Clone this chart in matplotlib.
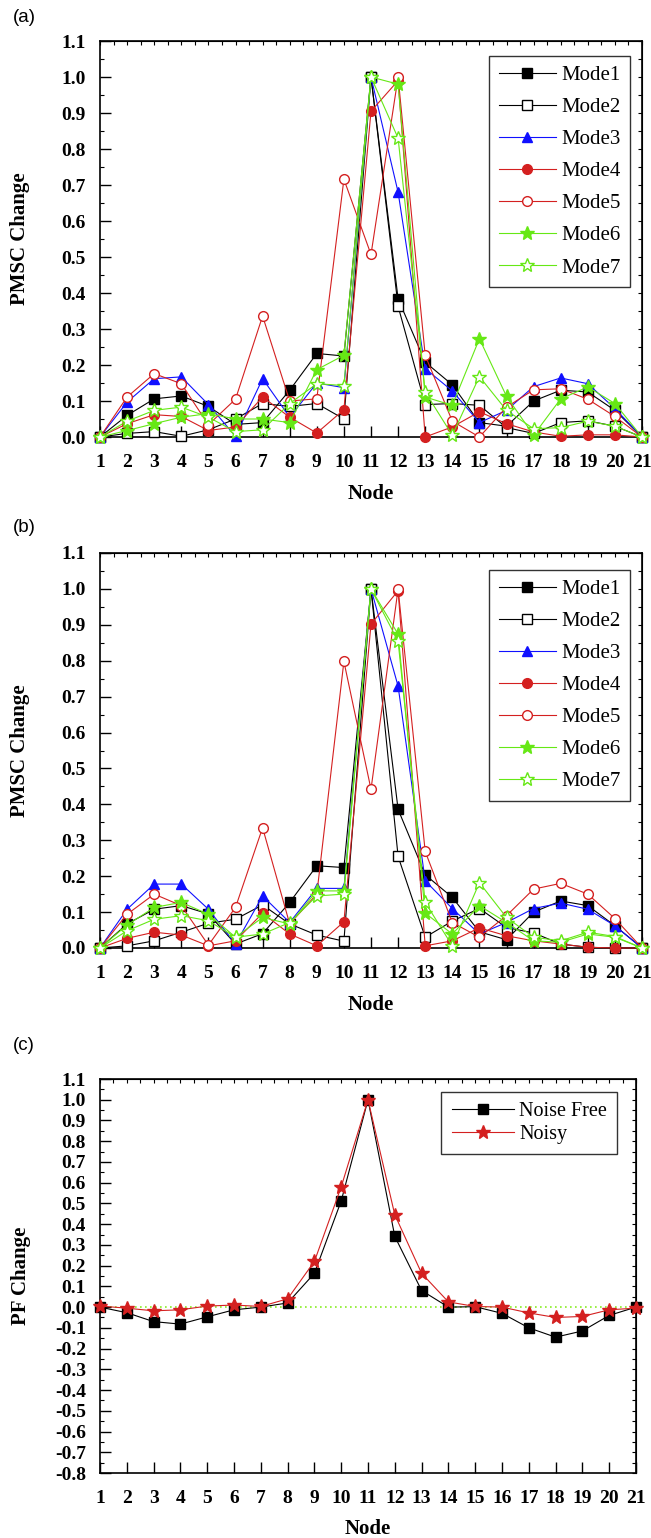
import matplotlib
matplotlib.use("Agg")
import matplotlib.pyplot as plt
from matplotlib.ticker import MultipleLocator, FormatStrFormatter

plt.rcParams['axes.unicode_minus'] = False

nodes = list(range(1, 22))
node_labels = [str(n) for n in nodes]

# Panel (a)
a_mode1 = [0, 0.06, 0.106, 0.114, 0.085, 0.035, 0.04, 0.13, 0.232, 0.225, 1.0, 0.384, 0.208, 0.145, 0.04, 0.03, 0.10, 0.13, 0.125, 0.074, 0]
a_mode2 = [0, 0.01, 0.015, 0.002, 0.02, 0.05, 0.093, 0.085, 0.093, 0.05, 1.0, 0.363, 0.09, 0.093, 0.088, 0.026, 0.01, 0.04, 0.045, 0.03, 0]
a_mode3 = [0, 0.097, 0.162, 0.167, 0.09, 0.002, 0.162, 0.055, 0.15, 0.137, 1.0, 0.68, 0.19, 0.128, 0.04, 0.074, 0.14, 0.164, 0.148, 0.079, 0]
a_mode4 = [0, 0.037, 0.062, 0.057, 0.018, 0.028, 0.111, 0.055, 0.011, 0.076, 0.905, 0.99, 0.0, 0.028, 0.07, 0.037, 0.014, 0.002, 0.006, 0.006, 0]
a_mode5 = [0, 0.111, 0.176, 0.148, 0.034, 0.105, 0.336, 0.1, 0.106, 0.716, 0.507, 1.0, 0.227, 0.044, 0.0, 0.083, 0.131, 0.134, 0.105, 0.057, 0]
a_mode6 = [0, 0.018, 0.037, 0.055, 0.065, 0.05, 0.05, 0.04, 0.187, 0.227, 1.0, 0.98, 0.111, 0.088, 0.273, 0.113, 0.005, 0.106, 0.139, 0.093, 0]
a_mode7 = [0, 0.044, 0.074, 0.083, 0.055, 0.015, 0.02, 0.093, 0.148, 0.143, 1.0, 0.83, 0.125, 0.005, 0.168, 0.074, 0.023, 0.026, 0.044, 0.03, 0]

# Panel (b)
b_mode1 = [0, 0.067, 0.108, 0.118, 0.095, 0.011, 0.04, 0.127, 0.229, 0.224, 1.0, 0.386, 0.204, 0.141, 0.045, 0.023, 0.1, 0.131, 0.118, 0.062, 0]
b_mode2 = [0, 0.006, 0.02, 0.044, 0.069, 0.08, 0.12, 0.067, 0.036, 0.019, 1.0, 0.255, 0.03, 0.075, 0.11, 0.057, 0.042, 0.011, 0.002, 0.0, 0]
b_mode3 = [0, 0.108, 0.178, 0.178, 0.108, 0.011, 0.145, 0.071, 0.166, 0.166, 1.0, 0.729, 0.187, 0.11, 0.039, 0.071, 0.11, 0.125, 0.108, 0.062, 0]
b_mode4 = [0, 0.027, 0.044, 0.036, 0.006, 0.02, 0.097, 0.039, 0.006, 0.073, 0.902, 0.995, 0.006, 0.02, 0.056, 0.034, 0.02, 0.011, 0.002, 0.0, 0]
b_mode5 = [0, 0.094, 0.15, 0.118, 0.008, 0.113, 0.335, 0.067, 0.15, 0.798, 0.442, 1.0, 0.269, 0.071, 0.03, 0.09, 0.164, 0.18, 0.15, 0.082, 0]
b_mode6 = [0, 0.064, 0.113, 0.127, 0.094, 0.03, 0.085, 0.067, 0.159, 0.159, 1.0, 0.874, 0.097, 0.039, 0.118, 0.071, 0.02, 0.016, 0.039, 0.03, 0]
b_mode7 = [0, 0.048, 0.08, 0.09, 0.076, 0.03, 0.039, 0.071, 0.145, 0.15, 1.0, 0.854, 0.127, 0.006, 0.182, 0.085, 0.03, 0.02, 0.044, 0.032, 0]

# Panel (c)
c_noise_free = [0, -0.027, -0.07, -0.082, -0.047, -0.013, 0.0, 0.02, 0.163, 0.512, 1.0, 0.341, 0.08, 0.0, 0.002, -0.03, -0.1, -0.145, -0.115, -0.04, 0.0]
c_noisy = [0.005, -0.005, -0.018, -0.013, 0.005, 0.01, 0.003, 0.04, 0.22, 0.58, 1.0, 0.445, 0.163, 0.025, 0.003, 0.0, -0.028, -0.05, -0.045, -0.013, -0.005]

mode_names = ["Mode1", "Mode2", "Mode3", "Mode4", "Mode5", "Mode6", "Mode7"]

RED = "#d42020"
BLUE = "#1010ff"
GREEN = "#66e815"
styles = [
    dict(color="black", marker="s", mfc="black", mec="black", ms=6.5),
    dict(color="black", marker="s", mfc="white", mec="black", ms=6.5),
    dict(color=BLUE, marker="^", mfc=BLUE, mec=BLUE, ms=7.5),
    dict(color=RED, marker="o", mfc=RED, mec=RED, ms=7),
    dict(color=RED, marker="o", mfc="white", mec=RED, ms=7),
    dict(color=GREEN, marker="*", mfc=GREEN, mec=GREEN, ms=10),
    dict(color=GREEN, marker="*", mfc="white", mec=GREEN, ms=10),
]

SERIF = "Liberation Serif"
W, H = 651, 1538
fig = plt.figure(figsize=(W / 100, H / 100), dpi=100)


def make_axes(left, right, top, bottom):
    return fig.add_axes([left / W, 1 - bottom / H, (right - left) / W, (bottom - top) / H])


def style_axes(ax, ymin, ymax, ylabel):
    ax.set_xlim(1, 21)
    ax.set_ylim(ymin, ymax)
    ax.set_xticks(nodes)
    ax.set_xticklabels(node_labels)
    ax.yaxis.set_major_locator(MultipleLocator(0.1))
    ax.yaxis.set_minor_locator(MultipleLocator(0.05))
    ax.yaxis.set_major_formatter(FormatStrFormatter('%.1f'))
    ax.tick_params(axis='x', which='major', direction='in', length=8, width=1, pad=12)
    ax.tick_params(axis='y', which='major', direction='in', length=8, width=1, pad=10)
    ax.tick_params(axis='y', which='minor', direction='in', length=3, width=0.8)
    for lab in ax.get_xticklabels() + ax.get_yticklabels():
        lab.set_fontfamily(SERIF)
        lab.set_fontweight('bold')
        lab.set_fontsize(14)
    for sp in ax.spines.values():
        sp.set_linewidth(1.2)
    top = ax.secondary_xaxis('top')
    top.xaxis.set_major_locator(MultipleLocator(0.5))
    top.tick_params(direction='in', length=3, width=0.8, labeltop=False)
    right = ax.secondary_yaxis('right')
    right.yaxis.set_major_locator(MultipleLocator(0.05))
    right.tick_params(direction='in', length=3, width=0.8, labelright=False)
    ax.set_xlabel("Node", fontfamily=SERIF, fontweight='bold', fontsize=15)
    ax.set_ylabel(ylabel, fontfamily=SERIF, fontweight='bold', fontsize=15)
    ax.xaxis.set_label_coords(0.5, -0.118)
    ax.yaxis.set_label_coords(-0.129, 0.5)


def mode_panel(ax, series, legend_anchor):
    for name, vals, st in zip(mode_names, series, styles):
        ax.plot(nodes, vals, label=name, lw=0.8, clip_on=False, zorder=3, **st)
    leg = ax.legend(loc='upper right', bbox_to_anchor=legend_anchor, borderaxespad=0,
                    prop={'family': SERIF, 'size': 15}, frameon=True, fancybox=False,
                    edgecolor='black', numpoints=1, handlelength=2.75, handletextpad=0.25,
                    labelspacing=0.6, borderpad=0.45)
    leg.get_frame().set_linewidth(1.0)


ax_a = make_axes(100, 642, 41, 437)
mode_panel(ax_a, [a_mode1, a_mode2, a_mode3, a_mode4, a_mode5, a_mode6, a_mode7], (0.978, 0.962))
style_axes(ax_a, 0.0, 1.1, "PMSC Change")

ax_b = make_axes(100, 642, 553, 948)
mode_panel(ax_b, [b_mode1, b_mode2, b_mode3, b_mode4, b_mode5, b_mode6, b_mode7], (0.978, 0.957))
style_axes(ax_b, 0.0, 1.1, "PMSC Change")

ax_c = make_axes(100, 636, 1079, 1473)
ax_c.axhline(0, color="#88ee22", lw=1.2, ls=(0, (1, 2)), zorder=1)
ax_c.plot(nodes, c_noise_free, color="black", marker="s", ms=7, lw=0.8, label="Noise Free", clip_on=False, zorder=3)
ax_c.plot(nodes, c_noisy, color=RED, marker="*", ms=10, lw=0.8, label="Noisy", clip_on=False, zorder=4)
legc = ax_c.legend(loc='upper right', bbox_to_anchor=(0.9645, 0.967), borderaxespad=0,
                   prop={'family': SERIF, 'size': 14.5}, frameon=True, fancybox=False,
                   edgecolor='black', numpoints=1, handlelength=3.1, handletextpad=0.25,
                   labelspacing=0.2, borderpad=0.5)
legc.get_frame().set_linewidth(1.0)
style_axes(ax_c, -0.8, 1.1, "PF Change")

for label, ycen in [("(a)", 18), ("(b)", 527), ("(c)", 1045)]:
    fig.text(13 / W, 1 - ycen / H, label, fontfamily="Liberation Sans", fontsize=13.5,
             ha='left', va='center')

fig.savefig("out.png", dpi=100)
